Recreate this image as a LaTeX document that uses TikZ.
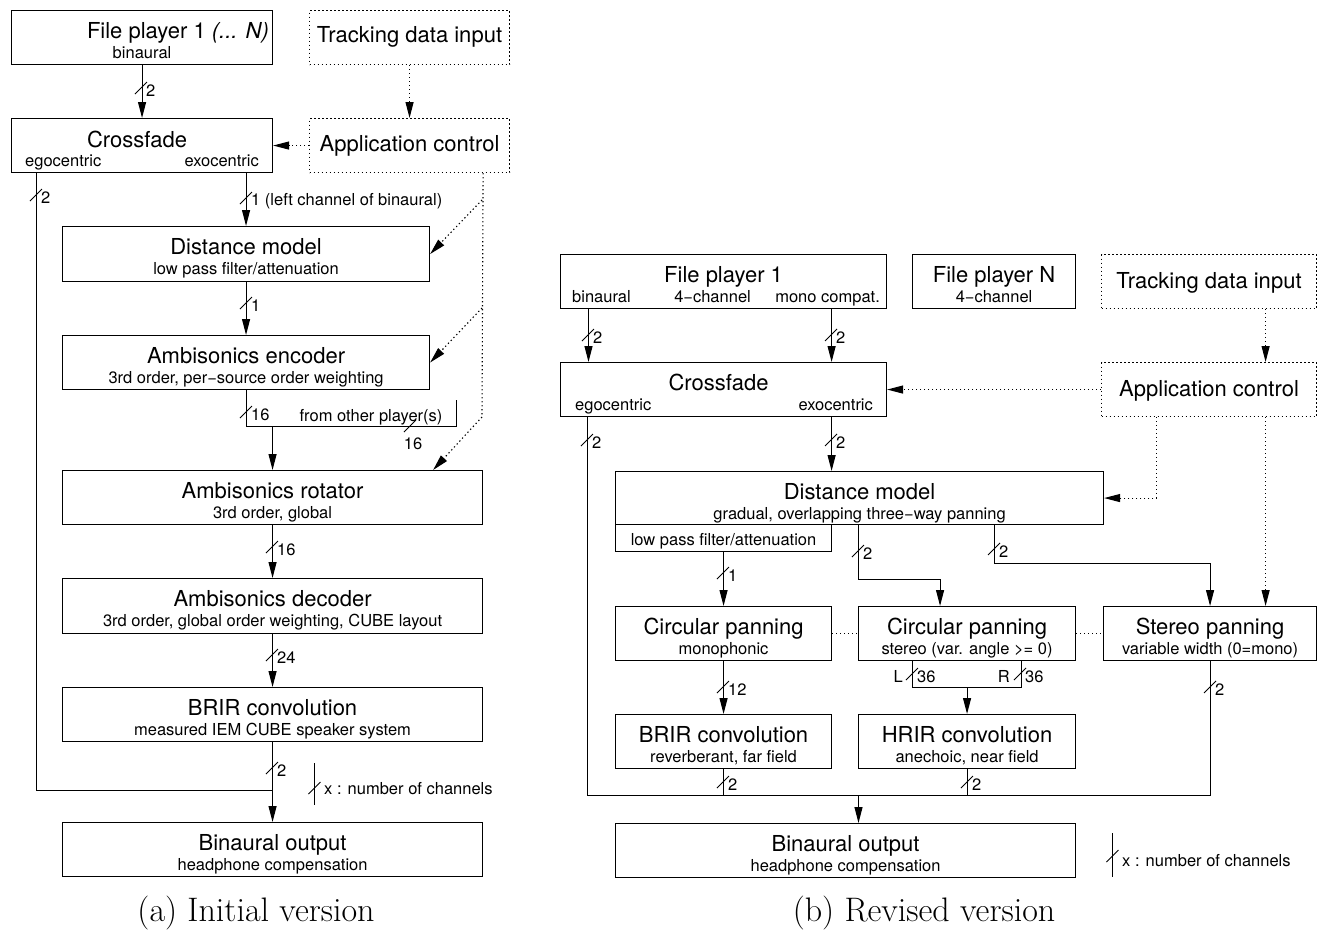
\documentclass[tikz,border=0pt]{standalone}
\usepackage{fontspec}
\newfontfamily\helv{TeX Gyre Heros}
\usetikzlibrary{arrows.meta,calc}

\tikzset{
  blk/.style={draw, line width=1.1pt, inner sep=0, minimum height=54, anchor=north west},
  ctl/.style={blk, dash pattern=on 1.3pt off 2.7pt},
  ttl/.style={font=\helv\fontsize{22}{24}\selectfont, inner sep=0, anchor=base},
  sub/.style={font=\helv\fontsize{16.5}{18}\selectfont, inner sep=0, anchor=base},
  capt/.style={font=\fontsize{34}{38}\selectfont, inner sep=0, anchor=base},
  wire/.style={line width=1.1pt},
  sig/.style={wire, -{Triangle[length=16pt,width=8pt]}},
  dotl/.style={wire, dash pattern=on 1.3pt off 2.7pt},
  ctrl/.style={sig, dash pattern=on 1.3pt off 2.7pt},
  pics/chan/.style={code={
      \draw[line width=0.8pt] (-6,6) -- (6,-6);
      \node[sub, anchor=west] (-n) at (5,3) {#1};
  }},
}
% title + subtitle of a block
\newcommand{\boxtext}[3]{%
  \node[ttl] (#1-t) at ([yshift=-28]#1.north) {#2};
  \node[sub] (#1-s) at ([yshift=-48]#1.north) {#3};}

\begin{document}
\begin{tikzpicture}[x=1pt,y=-1pt]
\useasboundingbox (0,0) rectangle (1320,930);

% ---------------- (a) initial version ----------------
\node[blk, minimum width=261] (fpA) at (11,10) {};
\node[ttl, anchor=base east] (fpA-t) at ([xshift=-4,yshift=-28]fpA.north east) {File player 1 \textit{(... N)}};
\node[sub] (fpA-s) at ([yshift=-48]fpA.north) {binaural};

\node[ctl, minimum width=200] (trkA) at (309,10) {};
\node[ttl] (trkA-t) at ([yshift=-32]trkA.north) {Tracking data input};

\node[blk, minimum width=261] (cfA) at (11,118) {};
\node[ttl] (cfA-t) at ([xshift=-5,yshift=-29]cfA.north) {Crossfade};
\node[sub, anchor=base west] (cfA-l) at ([xshift=14,yshift=-48]cfA.north west) {egocentric};
\node[sub, anchor=base east] (cfA-r) at ([xshift=-14,yshift=-48]cfA.north east) {exocentric};

\node[ctl, minimum width=200] (appA) at (309,118) {};
\node[ttl] (appA-t) at ([yshift=-33]appA.north) {Application control};

\node[blk, minimum width=367, minimum height=55] (dmA) at (62,226) {};
\boxtext{dmA}{Distance model}{low pass filter/attenuation}
\node[blk, minimum width=367] (encA) at (62,335) {};
\boxtext{encA}{Ambisonics encoder}{3rd order, per−source order weighting}
\node[blk, minimum width=420] (rotA) at (62,470) {};
\boxtext{rotA}{Ambisonics rotator}{3rd order, global}
\node[blk, minimum width=420, minimum height=55] (decA) at (62,578) {};
\boxtext{decA}{Ambisonics decoder}{3rd order, global order weighting, CUBE layout}
\node[blk, minimum width=420] (brA) at (62,687) {};
\boxtext{brA}{BRIR convolution}{measured IEM CUBE speaker system}
\node[blk, minimum width=420] (outA) at (62,822) {};
\boxtext{outA}{Binaural output}{headphone compensation}

% signal path
\coordinate (egoA) at ([xshift=25.5]cfA.south west);
\coordinate (sumA) at (brA.south |- 0,790.5);
\coordinate (mixA) at (rotA.north |- 0,426.5);
\coordinate (othA) at (456.5,400);
\draw[sig] (fpA.south) -- (cfA.north);
\pic (cA1) at (141,88) {chan=2};
\draw[wire] (egoA) |- (sumA);
\pic (cA2) at (36,195) {chan=2};
\draw[sig] (cfA.south -| dmA.north) -- (dmA.north);
\pic (cA3) at (246,198) {chan=1 (left channel of binaural)};
\draw[sig] (dmA.south) -- (encA.north);
\pic (cA4) at (246,303) {chan=1};
\draw[wire] (encA.south) |- (othA |- mixA) -- (othA);
\pic (cA5) at (246,412) {chan=16};
\node[sub] (othA-t) at (371,421) {from other player(s)};
\pic (cA6) at (410,426) {chan=};
\node[sub] (cA6-l) at (413,449) {16};
\draw[sig] (mixA) -- (rotA.north);
\draw[sig] (rotA.south) -- (decA.north);
\pic (cA7) at (272,547) {chan=16};
\draw[sig] (decA.south) -- (brA.north);
\pic (cA8) at (272,655) {chan=24};
\draw[sig] (brA.south) -- (outA.north);
\pic (cA9) at (272,768) {chan=2};

% control path
\coordinate (ctA) at ([xshift=-27]appA.south east);
\coordinate (ctA1) at (482,200);
\coordinate (ctA2) at (482,308);
\coordinate (ctA3) at (482,417);
\draw[ctrl] (trkA.south) -- (appA.north);
\draw[ctrl] (appA.west) -- (appA.west -| cfA.east);
\draw[dotl] (ctA) -- (ctA3);
\draw[ctrl] (ctA1) -- (dmA.east);
\draw[ctrl] (ctA2) -- (encA.east);
\draw[ctrl] (ctA3) -- ([xshift=-50]rotA.north east);

% legend
\coordinate (lgA) at (314.5,788);
\draw[wire] ([yshift=25]lgA) -- ([yshift=-17]lgA);
\pic (lgA-c) at (lgA) {chan=};
\node[sub, anchor=base west] (lgA-t) at (324,794) {x : number of channels};

\node[capt] (capA) at (256,921) {(a) Initial version};

% ---------------- (b) revised version ----------------
\node[blk, minimum width=326] (fpB) at (560,254) {};
\node[ttl] (fpB-t) at ([yshift=-28]fpB.north) {File player 1};
\node[sub, anchor=base west] (fpB-l) at ([xshift=12,yshift=-48]fpB.north west) {binaural};
\node[sub] (fpB-m) at ([xshift=-11,yshift=-48]fpB.north) {4−channel};
\node[sub, anchor=base east] (fpB-r) at ([xshift=-7,yshift=-48]fpB.north east) {mono compat.};

\node[blk, minimum width=163] (fpN) at (912,254) {};
\boxtext{fpN}{File player N}{4−channel}

\node[ctl, minimum width=215] (trkB) at (1101,254) {};
\node[ttl] (trkB-t) at ([yshift=-34]trkB.north) {Tracking data input};

\node[blk, minimum width=326] (cfB) at (560,362) {};
\node[ttl] (cfB-t) at ([xshift=-5,yshift=-28]cfB.north) {Crossfade};
\node[sub, anchor=base west] (cfB-l) at ([xshift=15,yshift=-48]cfB.north west) {egocentric};
\node[sub, anchor=base east] (cfB-r) at ([xshift=-14,yshift=-48]cfB.north east) {exocentric};

\node[ctl, minimum width=215] (appB) at (1101,362) {};
\node[ttl] (appB-t) at ([yshift=-34]appB.north) {Application control};

\node[blk, minimum width=488, minimum height=53] (dmB) at (615,471) {};
\boxtext{dmB}{Distance model}{gradual, overlapping three−way panning}
\node[blk, minimum width=216, minimum height=27] (lpB) at (615,524) {};
\node[sub] (lpB-t) at ([yshift=-21]lpB.north) {low pass filter/attenuation};

\node[blk, minimum width=216] (cpmB) at (615,606) {};
\boxtext{cpmB}{Circular panning}{monophonic}
\node[blk, minimum width=217] (cpsB) at (858,606) {};
\boxtext{cpsB}{Circular panning}{stereo (var. angle >= 0)}
\node[blk, minimum width=213] (spB) at (1103,606) {};
\boxtext{spB}{Stereo panning}{variable width (0=mono)}
\node[blk, minimum width=216] (brB) at (615,714) {};
\boxtext{brB}{BRIR convolution}{reverberant, far field}
\node[blk, minimum width=217] (hrB) at (858,714) {};
\boxtext{hrB}{HRIR convolution}{anechoic, near field}
\node[blk, minimum width=460] (outB) at (615,823) {};
\boxtext{outB}{Binaural output}{headphone compensation}

% signal path
\coordinate (binB) at ([xshift=28.5]fpB.south west);
\coordinate (monB) at ([xshift=-55.5]fpB.south east);
\coordinate (egoB) at ([xshift=27.5]cfB.south west);
\coordinate (sumB) at (spB.south |- 0,795.5);
\coordinate (joinB) at (858.5,795.5);
\coordinate (dmB2) at ([xshift=243.5]dmB.south west);
\coordinate (dmB3) at ([xshift=379.5]dmB.south west);
\coordinate (Lch) at ([xshift=54.5]cpsB.south west);
\coordinate (Rch) at ([xshift=-54.5]cpsB.south east);
\coordinate (LRj) at (hrB.north |- 0,687.5);
\draw[sig] (binB) -- (binB |- cfB.north);
\pic (cB1) at (588,335) {chan=2};
\draw[sig] (monB) -- (monB |- cfB.north);
\pic (cB2) at (831,335) {chan=2};
\draw[wire] (egoB) |- (sumB) -- (spB.south);
\pic (cB3) at (587,440) {chan=2};
\draw[sig] (monB |- cfB.south) -- (monB |- dmB.north);
\pic (cB4) at (831,440) {chan=2};
\draw[sig] (lpB.south) -- (cpmB.north);
\pic (cB5) at (723,573) {chan=1};
\draw[sig] (dmB2) -- ++(0,54.5) -| ([xshift=-27]cpsB.north);
\pic (cB6) at (858,551) {chan=2};
\draw[sig] (dmB3) -- ++(0,38.5) -| (spB.north);
\pic (cB7) at (994,549) {chan=2};
\draw[sig] (cpmB.south) -- (brB.north);
\pic (cB8) at (723,687) {chan=12};
\draw[wire] (Lch) |- (LRj) -| (Rch);
\draw[sig] (LRj) -- (hrB.north);
\pic (cB9) at (912,674) {chan=36};
\node[sub, anchor=east] (cB9-L) at (903,676) {L};
\pic (cB10) at (1020,674) {chan=36};
\node[sub, anchor=east] (cB10-R) at (1010,676) {R};
\pic (cB11) at (1210,687) {chan=2};
\draw[wire] (brB.south) -- (brB.south |- sumB);
\pic (cB12) at (723,782) {chan=2};
\draw[wire] (hrB.south) -- (hrB.south |- sumB);
\pic (cB13) at (967,782) {chan=2};
\draw[sig] (joinB) -- (joinB |- outB.north);

% control path
\coordinate (trkBx) at ([xshift=-51.5]trkB.south east);
\coordinate (apB1) at ([xshift=55.5]appB.south west);
\draw[ctrl] (trkBx) -- (trkBx |- appB.north);
\draw[ctrl] (appB.west) -- (appB.west -| cfB.east);
\draw[ctrl] (apB1) |- (dmB.east);
\draw[ctrl] (trkBx |- appB.south) -- (trkBx |- spB.north);
\draw[dotl] (cpmB.east) -- (cpsB.west);
\draw[dotl] (cpsB.east) -- (spB.west);

% legend
\coordinate (lgB) at (1112.5,856);
\draw[wire] ([yshift=23]lgB) -- ([yshift=-21]lgB);
\pic (lgB-c) at (lgB) {chan=};
\node[sub, anchor=base west] (lgB-t) at (1122,866) {x : number of channels};

\node[capt] (capB) at (924,921) {(b) Revised version};
\end{tikzpicture}
\end{document}
